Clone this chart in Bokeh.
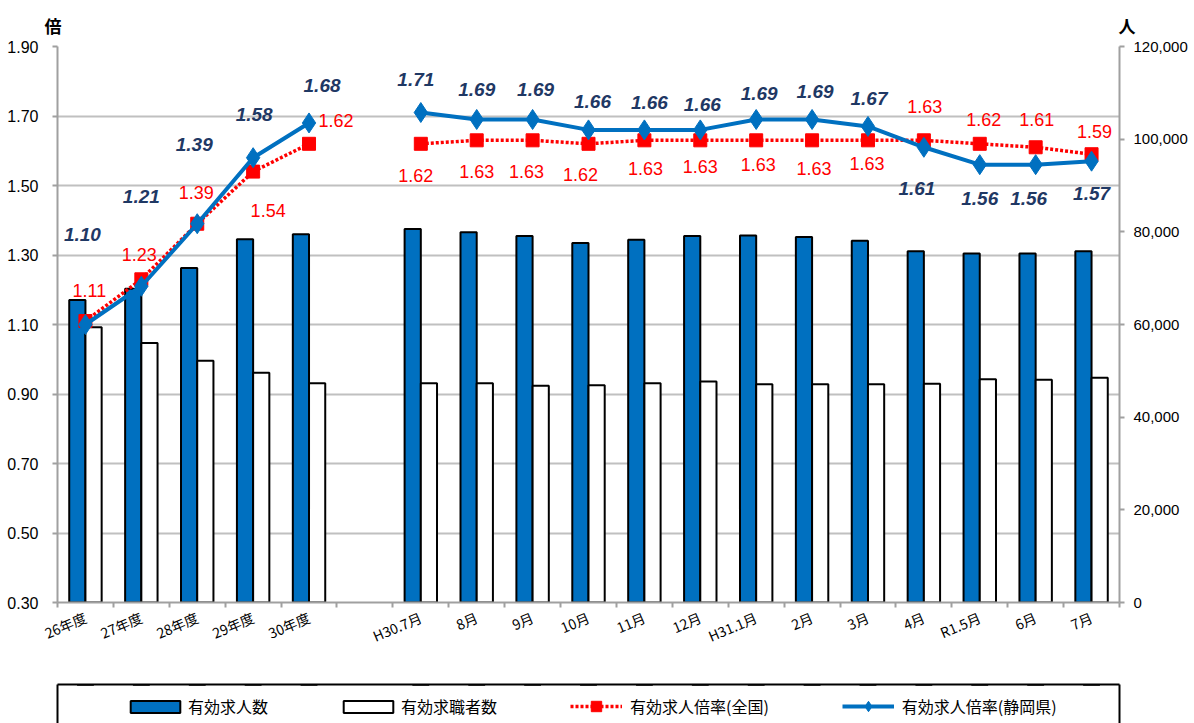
import math
from bokeh.plotting import figure
from bokeh.layouts import column
from bokeh.models import (Range1d, LinearAxis, FixedTicker, NumeralTickFormatter, ColumnDataSource,
                          Legend, LegendItem)
from bokeh.transform import dodge
from bokeh.core.properties import value
from bokeh.embed import file_html
from bokeh.resources import INLINE

# ---------------- data ----------------
year_labels = ["26年度", "27年度", "28年度", "29年度", "30年度"]
month_labels = ["H30.7月", "8月", "9月", "10月", "11月", "12月", "H31.1月",
                "2月", "3月", "4月", "R1.5月", "6月", "7月"]

year_openings = [65300, 67700, 72200, 78400, 79500]
month_openings = [80600, 79900, 79100, 77600, 78300, 79100, 79200,
                  78900, 78100, 75800, 75300, 75300, 75800]
year_seekers = [59400, 56000, 52200, 49600, 47300]
month_seekers = [47300, 47300, 46800, 46900, 47300, 47700, 47100,
                 47100, 47100, 47200, 48200, 48100, 48500]
year_rate_national = [1.11, 1.23, 1.39, 1.54, 1.62]
month_rate_national = [1.62, 1.63, 1.63, 1.62, 1.63, 1.63, 1.63,
                       1.63, 1.63, 1.63, 1.62, 1.61, 1.59]
year_rate_shizuoka = [1.10, 1.21, 1.39, 1.58, 1.68]
month_rate_shizuoka = [1.71, 1.69, 1.69, 1.66, 1.66, 1.66, 1.69,
                       1.69, 1.67, 1.61, 1.56, 1.56, 1.57]

left_ticks = [0.30, 0.50, 0.70, 0.90, 1.10, 1.30, 1.50, 1.70, 1.90]
right_ticks = [0, 20000, 40000, 60000, 80000, 100000, 120000]

# label placement (pixel offsets from each point; styling only)
shz_dx = [-3, 0, -3, 1, 13, 0, -5, 0, 3, 4, 5, 2, 3, 3, 1, -7, 0, -7, 0]
shz_dy = [-90, -90, -79, -43, -37, 0, -33, -30, -30, -28, -27, -25, -26, -28, -28, 41, 34, 34, 32]
nat_dx = [4, -2, -1, 15, 27, 0, -5, 0, -6, -8, 1, 0, 2, 2, -1, 1, 4, 1, 3]
nat_dy = [-31, -25, -31, 39, -23, 0, 32, 31, 31, 31, 28, 26, 24, 28, 23, -34, -24, -28, -23]

# ---------------- build ----------------
NaN = float("nan")
categories = year_labels + [""] + month_labels
xs = list(range(len(categories)))
openings = year_openings + [NaN] + month_openings
seekers = year_seekers + [NaN] + month_seekers
nat = year_rate_national + [NaN] + month_rate_national
shz = year_rate_shizuoka + [NaN] + month_rate_shizuoka

src = ColumnDataSource(dict(
    x=xs, openings=openings, seekers=seekers, nat=nat, shz=shz,
    nat_txt=["" if math.isnan(v) else f"{v:.2f}" for v in nat],
    shz_txt=["" if math.isnan(v) else f"{v:.2f}" for v in shz],
    shz_dx=shz_dx, shz_dy=shz_dy, nat_dx=nat_dx, nat_dy=nat_dy,
))

NUM_FONT = "Liberation Sans"
JP_FONT = "Noto Sans CJK JP"
W = 1190
BL, BR = 57, 67          # frame left / right borders
AXIS_GRAY = "#A0A0A0"

BLUE_BAR = dict(fill_color="#0070C0", line_color="black", line_width=2)
WHITE_BAR = dict(fill_color="white", line_color="black", line_width=2)
NAT_LINE = dict(line_color="#FF0000", line_width=3.5, line_dash="3 2")
NAT_MARK = dict(marker="square", size=13, fill_color="#FF0000", line_color="#FF0000")
SHZ_LINE = dict(line_color="#0070C0", line_width=4)
SHZ_MARK = dict(marker="diamond", size=20, fill_color="#0070C0", line_color="#0070C0")


def blank_axis(ax, line_color=None):
    ax.ticker = FixedTicker(ticks=[])
    ax.major_label_text_font_size = "0px"
    ax.major_label_standoff = 0
    ax.major_tick_line_color = None
    ax.minor_tick_line_color = None
    ax.major_tick_out = 0
    ax.major_tick_in = 0
    ax.axis_line_color = line_color
    ax.axis_line_width = 2


# ---------- header with unit labels ("倍" left, "人" right) ----------
hdr = figure(width=W, height=38, output_backend="svg", toolbar_location=None,
             x_range=Range1d(0, 1), y_range=Range1d(0, 1),
             min_border_left=BL, min_border_right=BR, min_border_top=12, min_border_bottom=0)
hdr.outline_line_color = None
hdr.grid.visible = False
hdr.xaxis.visible = False
hdr.add_layout(LinearAxis(), "right")
for ax, lab, so in ((hdr.yaxis[0], "倍", -4), (hdr.yaxis[1], "人", -1)):
    blank_axis(ax)
    ax.axis_label = lab
    ax.axis_label_orientation = "horizontal"
    ax.axis_label_standoff = so
    ax.axis_label_text_font = JP_FONT
    ax.axis_label_text_font_style = "bold"
    ax.axis_label_text_font_size = "17px"
    ax.axis_label_text_color = "black"

# ---------- main chart ----------
p = figure(width=W, height=644, output_backend="svg", toolbar_location=None,
           x_range=Range1d(-0.5, len(categories) - 0.5), y_range=Range1d(left_ticks[0], left_ticks[-1]),
           min_border_left=BL, min_border_right=BR, min_border_top=8, min_border_bottom=80)
p.extra_y_ranges = {"count": Range1d(right_ticks[0], right_ticks[-1])}
p.outline_line_color = None

p.xgrid.visible = False
p.ygrid.grid_line_color = "#C0C0C0"
p.ygrid.grid_line_width = 2

ya = p.yaxis[0]
ya.ticker = FixedTicker(ticks=left_ticks)
ya.formatter = NumeralTickFormatter(format="0.00")
ya.axis_line_color = AXIS_GRAY
ya.axis_line_width = 2
ya.major_tick_line_color = AXIS_GRAY
ya.major_tick_line_width = 2
ya.major_tick_in = 0
ya.major_tick_out = 5
ya.minor_tick_line_color = None
ya.major_label_standoff = 14
ya.major_label_text_font = NUM_FONT
ya.major_label_text_font_size = "16px"
ya.major_label_text_color = "black"

ra = LinearAxis(y_range_name="count", ticker=FixedTicker(ticks=right_ticks),
                formatter=NumeralTickFormatter(format="0,0"))
ra.axis_line_color = AXIS_GRAY
ra.axis_line_width = 2
ra.major_tick_line_color = AXIS_GRAY
ra.major_tick_line_width = 2
ra.major_tick_in = 0
ra.major_tick_out = 5
ra.minor_tick_line_color = None
ra.major_label_standoff = 9
ra.major_label_text_font = NUM_FONT
ra.major_label_text_font_size = "15px"
ra.major_label_text_color = "black"
p.add_layout(ra, "right")

xa = p.xaxis[0]
xa.ticker = FixedTicker(ticks=xs, minor_ticks=[i - 0.5 for i in range(len(categories) + 1)])
xa.major_label_overrides = {i: c for i, c in zip(xs, categories)}
xa.major_tick_line_color = None
xa.minor_tick_line_color = AXIS_GRAY
xa.minor_tick_line_width = 2
xa.minor_tick_in = 0
xa.minor_tick_out = 5
xa.axis_line_color = AXIS_GRAY
xa.axis_line_width = 2
xa.major_label_orientation = 0.4
xa.major_label_standoff = 8
xa.major_label_text_font = JP_FONT
xa.major_label_text_font_size = "14px"
xa.major_label_text_color = "black"

p.vbar(x=dodge("x", -0.145), top="openings", bottom=0, width=0.29, source=src,
       y_range_name="count", **BLUE_BAR)
p.vbar(x=dodge("x", 0.145), top="seekers", bottom=0, width=0.29, source=src,
       y_range_name="count", **WHITE_BAR)
p.line(x="x", y="nat", source=src, **NAT_LINE)
p.scatter(x="x", y="nat", source=src, **NAT_MARK)
p.line(x="x", y="shz", source=src, **SHZ_LINE)
p.scatter(x="x", y="shz", source=src, **SHZ_MARK)

p.text(x="x", y="nat", text="nat_txt", source=src, x_offset="nat_dx", y_offset="nat_dy",
       text_align="center", text_baseline="middle", text_font=value(NUM_FONT),
       text_font_size="18px", text_color="#FF0000")
p.text(x="x", y="shz", text="shz_txt", source=src, x_offset="shz_dx", y_offset="shz_dy",
       text_align="center", text_baseline="middle", text_font=value(NUM_FONT),
       text_font_style="bold italic", text_font_size="19px", text_color="#1F3864")

# ---------- legend strip (box drawn by axis lines on three sides) ----------
# The same series are attached here only as legend keys; the y-range lies
# below all of the data, so nothing of them is drawn inside this strip.
lg = figure(width=W, height=41, output_backend="svg", toolbar_location=None,
            x_range=Range1d(-0.5, len(categories) - 0.5), y_range=Range1d(-2, -1),
            min_border_left=BL, min_border_right=BR, min_border_top=2, min_border_bottom=0,
            x_axis_location="above", y_axis_location="left")
lg.grid.visible = False
lg.outline_line_color = None
lg.add_layout(LinearAxis(), "right")
for ax in lg.axis:
    blank_axis(ax, "black")

r1 = lg.vbar(x="x", top="openings", bottom=0, width=0.29, source=src, **BLUE_BAR)
r2 = lg.vbar(x="x", top="seekers", bottom=0, width=0.29, source=src, **WHITE_BAR)
r3 = lg.line(x="x", y="nat", source=src, **NAT_LINE)
r4 = lg.scatter(x="x", y="nat", source=src, **NAT_MARK)
r5 = lg.line(x="x", y="shz", source=src, **SHZ_LINE)
r6 = lg.scatter(x="x", y="shz", source=src, **SHZ_MARK)

LEG_STYLE = dict(orientation="horizontal", padding=0, margin=0, border_line_color=None,
                 background_fill_alpha=0, label_text_font=JP_FONT,
                 label_text_font_size="16px", label_text_color="black")

legend_bars = Legend(items=[LegendItem(label="有効求人数", renderers=[r1]),
                            LegendItem(label="有効求職者数", renderers=[r2])],
                     location=(67, 5), glyph_width=62, glyph_height=15,
                     label_standoff=2, spacing=69, **LEG_STYLE)
legend_lines = Legend(items=[LegendItem(label="有効求人倍率(全国)", renderers=[r3, r4]),
                             LegendItem(label="有効求人倍率(静岡県)", renderers=[r5, r6])],
                      location=(513, 4), glyph_width=52, glyph_height=26,
                      label_standoff=8, spacing=73, **LEG_STYLE)
lg.add_layout(legend_bars)
lg.add_layout(legend_lines)

layout = column(hdr, p, lg, spacing=0)
open("out.html", "w").write(file_html(layout, INLINE))
